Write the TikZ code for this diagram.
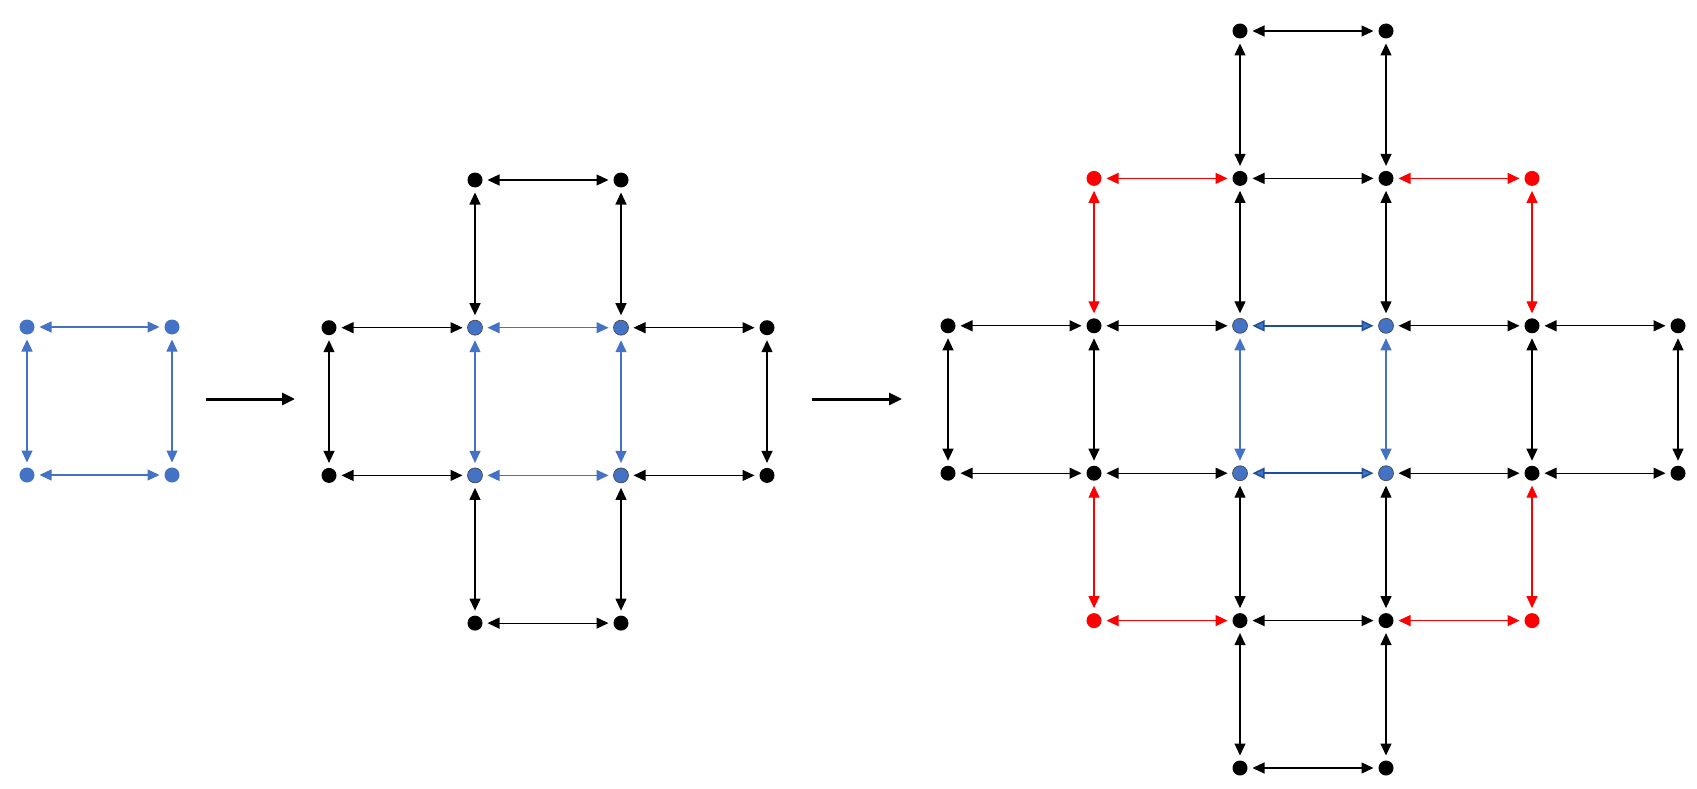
\documentclass[tikz,border=0pt]{standalone}
\usetikzlibrary{arrows.meta}
\definecolor{cellblue}{HTML}{4472C4}
\definecolor{deepblue}{HTML}{1F4E99}
\begin{document}
\begin{tikzpicture}[x=1pt,y=-1pt,
  vtx/.style={circle,fill=black,inner sep=0pt,minimum size=15pt,outer sep=5pt},
  bvtx/.style={vtx,fill=cellblue,draw=black!75,line width=0.6pt},
  rvtx/.style={vtx,fill=red},
  lvtx/.style={vtx,fill=cellblue},
  link/.style={{Triangle[length=12pt,width=11pt]}-{Triangle[length=12pt,width=11pt]},line width=1.2pt},
  klink/.style={link,black},
  blink/.style={link,cellblue},
  dlink/.style={link,line width=1.5pt,deepblue,{Triangle[length=12pt,width=11pt,fill=cellblue]}-{Triangle[length=12pt,width=11pt,fill=cellblue]}},
  rlink/.style={link,red},
  step arrow/.style={-{Triangle[length=13pt,width=12pt]},line width=3pt}]
\useasboundingbox (0,0) rectangle (1697,789);
% Single cell
\foreach \c/\x in {0/27,1/172}
  \foreach \r/\y in {0/327,1/475}
    \node[lvtx] (a\c\r) at (\x,\y) {};
\foreach \p/\q in {a00/a10,a01/a11,a00/a01,a10/a11}
  \draw[blink] (\p) -- (\q);
% First arrow
\coordinate (s1) at (206,399);
\coordinate (e1) at (295,399);
\draw[step arrow] (s1) -- (e1);
% Cross of five cells
\foreach \c/\r/\s in {1/0/vtx,2/0/vtx,0/1/vtx,1/1/bvtx,2/1/bvtx,3/1/vtx,
                      0/2/vtx,1/2/bvtx,2/2/bvtx,3/2/vtx,1/3/vtx,2/3/vtx}
  \node[\s] (b\c\r) at ({329+146*\c},{180+147.7*\r}) {};
\foreach \p/\q/\s in {b10/b20/klink,b10/b11/klink,b20/b21/klink,
                      b01/b11/klink,b11/b21/blink,b21/b31/klink,
                      b02/b12/klink,b12/b22/blink,b22/b32/klink,
                      b01/b02/klink,b11/b12/blink,b21/b22/blink,b31/b32/klink,
                      b12/b13/klink,b22/b23/klink,b13/b23/klink}
  \draw[\s] (\p) -- (\q);
% Second arrow
\coordinate (s2) at (812,399);
\coordinate (e2) at (902,399);
\draw[step arrow] (s2) -- (e2);
% Grown grid
\foreach \c/\r/\s in {2/0/vtx,3/0/vtx,
                      1/1/rvtx,2/1/vtx,3/1/vtx,4/1/rvtx,
                      0/2/vtx,1/2/vtx,2/2/bvtx,3/2/bvtx,4/2/vtx,5/2/vtx,
                      0/3/vtx,1/3/vtx,2/3/bvtx,3/3/bvtx,4/3/vtx,5/3/vtx,
                      1/4/rvtx,2/4/vtx,3/4/vtx,4/4/rvtx,
                      2/5/vtx,3/5/vtx}
  \node[\s] (c\c\r) at ({948+146*\c},{31+147.4*\r}) {};
% horizontal links
\foreach \p/\q/\s in {c20/c30/klink,
                      c11/c21/rlink,c21/c31/klink,c31/c41/rlink,
                      c02/c12/klink,c12/c22/klink,c22/c32/dlink,c32/c42/klink,c42/c52/klink,
                      c03/c13/klink,c13/c23/klink,c23/c33/dlink,c33/c43/klink,c43/c53/klink,
                      c14/c24/rlink,c24/c34/klink,c34/c44/rlink,
                      c25/c35/klink}
  \draw[\s] (\p) -- (\q);
% vertical links
\foreach \p/\q/\s in {c20/c21/klink,c30/c31/klink,
                      c11/c12/rlink,c21/c22/klink,c31/c32/klink,c41/c42/rlink,
                      c02/c03/klink,c12/c13/klink,c22/c23/blink,c32/c33/blink,c42/c43/klink,c52/c53/klink,
                      c13/c14/rlink,c23/c24/klink,c33/c34/klink,c43/c44/rlink,
                      c24/c25/klink,c34/c35/klink}
  \draw[\s] (\p) -- (\q);
\end{tikzpicture}
\end{document}
